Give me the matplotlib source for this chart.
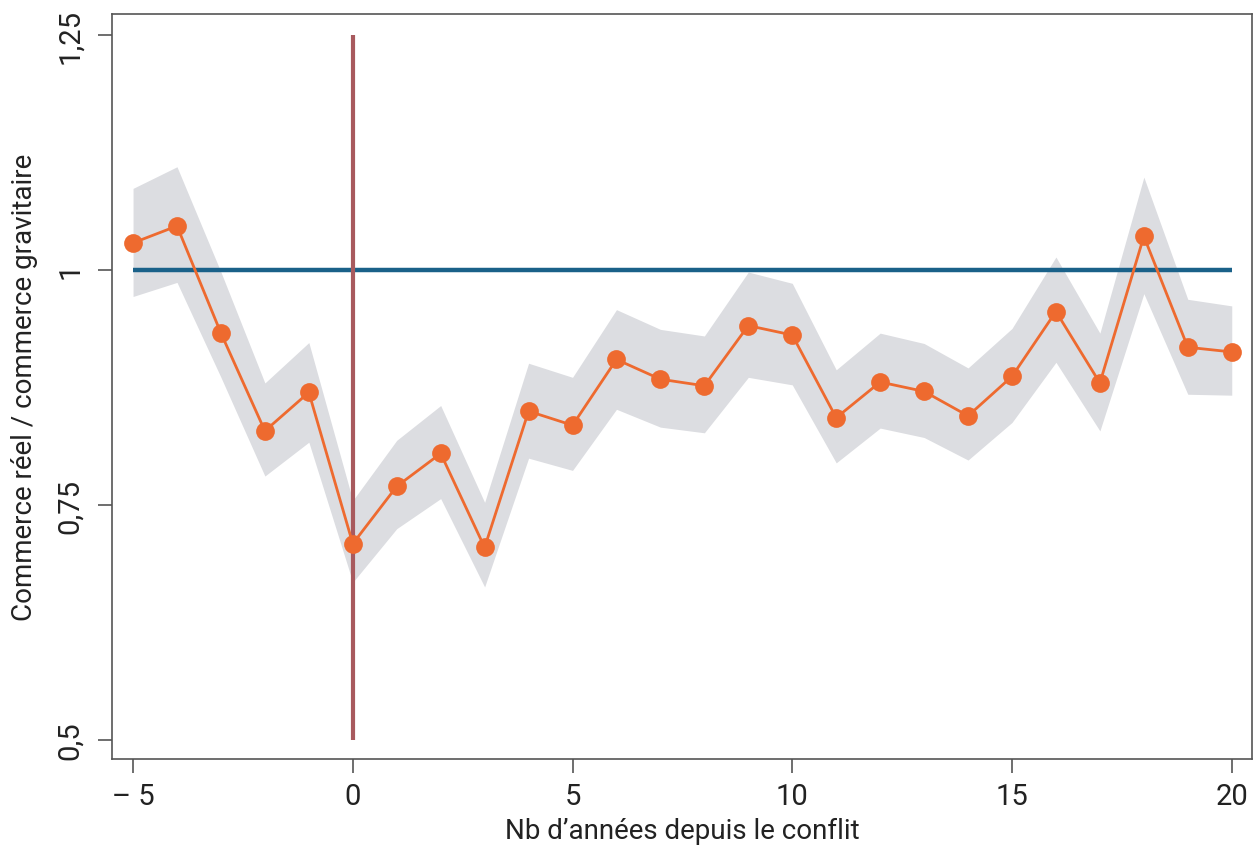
import matplotlib
matplotlib.use("Agg")
import matplotlib.pyplot as plt

# Years relative to the conflict and trade ratio estimates with confidence band
years = list(range(-5, 21))
ratio = [1.029, 1.047, 0.933, 0.829, 0.870, 0.709, 0.770, 0.805, 0.705, 0.850,
         0.835, 0.905, 0.884, 0.877, 0.941, 0.931, 0.843, 0.881, 0.871, 0.845,
         0.887, 0.956, 0.880, 1.036, 0.918, 0.913]
upper = [1.087, 1.110, 0.998, 0.880, 0.923, 0.755, 0.819, 0.856, 0.753, 0.901,
         0.886, 0.958, 0.937, 0.930, 0.998, 0.986, 0.894, 0.933, 0.922, 0.896,
         0.938, 1.014, 0.933, 1.099, 0.969, 0.962]
lower = [0.972, 0.987, 0.886, 0.781, 0.817, 0.668, 0.725, 0.757, 0.663, 0.800,
         0.787, 0.852, 0.833, 0.827, 0.886, 0.878, 0.795, 0.832, 0.822, 0.798,
         0.838, 0.902, 0.829, 0.975, 0.868, 0.867]

x_ticks = [-5, 0, 5, 10, 15, 20]
x_tick_labels = ["\u2013 5", "0", "5", "10", "15", "20"]
y_ticks = [0.5, 0.75, 1.0, 1.25]
y_tick_labels = ["0,5", "0,75", "1", "1,25"]

reference_level = 1.0
conflict_year = 0

plt.rcParams["font.family"] = ["Roboto", "DejaVu Sans"]

fig = plt.figure(figsize=(12.58, 8.53), dpi=100)
ax = fig.add_axes([0.089, 0.1096, 0.9062, 0.8728])

ax.fill_between(years, lower, upper, color="#dcdde1", linewidth=0, zorder=1)
ax.plot([years[0], years[-1]], [reference_level, reference_level],
        color="#1a6189", linewidth=3.2, solid_capstyle="butt", zorder=2)
ax.plot([conflict_year, conflict_year], [y_ticks[0], y_ticks[-1]],
        color="#a85a5e", linewidth=3.0, solid_capstyle="butt", zorder=3)
ax.plot(years, ratio, color="#ee6a2f", linewidth=2.0, marker="o",
        markersize=13.5, markeredgewidth=0, zorder=4)

ax.set_xlim(-5.48, 20.46)
ax.set_ylim(0.4805, 1.2725)

ax.set_xticks(x_ticks)
ax.set_xticklabels(x_tick_labels)
ax.set_yticks(y_ticks)
ax.set_yticklabels(y_tick_labels, rotation=90, va="center")

ax.tick_params(axis="both", direction="out", length=10, width=1.2,
               color="#555555", labelcolor="#222222", labelsize=21)
ax.tick_params(axis="x", pad=7)
ax.tick_params(axis="y", pad=10)

for spine in ax.spines.values():
    spine.set_color("#555555")
    spine.set_linewidth(1.2)

ax.set_xlabel("Nb d\u2019ann\u00e9es depuis le conflit", fontsize=20,
              color="#222222", labelpad=5)
ax.set_ylabel("Commerce r\u00e9el / commerce gravitaire", fontsize=20,
              color="#222222", labelpad=13)

fig.savefig("out.png", dpi=100, facecolor="white")
